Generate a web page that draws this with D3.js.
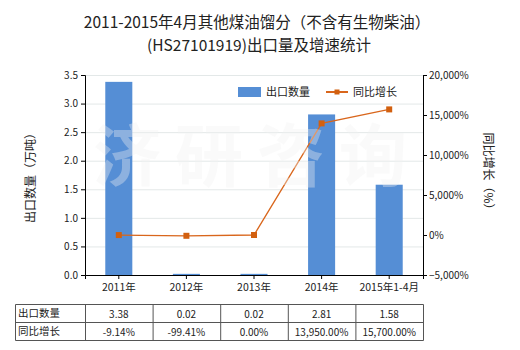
<!DOCTYPE html>
<html>
<head>
<meta charset="utf-8">
<script src="https://cdn.jsdelivr.net/npm/d3@7"></script>
<style>
  html, body { margin: 0; padding: 0; background: #fff; }
  svg { display: block; font-family: "Noto Sans CJK SC", "Noto Sans", sans-serif; }
</style>
</head>
<body>
<svg id="chart" width="520" height="350"></svg>
<script>
// Export volume (10k tonnes) and year-on-year growth (%)
const categories = ["2011年", "2012年", "2013年", "2014年", "2015年1-4月"];
const exportVolume = [3.38, 0.02, 0.02, 2.81, 1.58];
const growthRate = [-9.14, -99.41, 0.00, 13950.00, 15700.00];
const volumeLabels = ["3.38", "0.02", "0.02", "2.81", "1.58"];
const growthLabels = ["-9.14%", "-99.41%", "0.00%", "13,950.00%", "15,700.00%"];
const leftTicks = [0, 0.5, 1.0, 1.5, 2.0, 2.5, 3.0, 3.5];
const rightTicks = [-5000, 0, 5000, 10000, 15000, 20000];

const svg = d3.select("#chart");
const plot = { left: 85, right: 423, top: 75, bottom: 275 };

const x = d3.scaleBand().domain(categories).range([plot.left, plot.right]);
const yL = d3.scaleLinear().domain([0, 3.5]).range([plot.bottom, plot.top]);
const yR = d3.scaleLinear().domain([-5000, 20000]).range([plot.bottom, plot.top]);

// Title, two lines
const titleStyle = t => t.attr("text-anchor", "middle").attr("fill", "#222").style("font-size", "15.5px");
svg.append("text").attr("x", 257).attr("y", 28).call(titleStyle)
  .text("2011-2015年4月其他煤油馏分（不含有生物柴油）");
svg.append("text").attr("x", 259).attr("y", 50.5).call(titleStyle)
  .text("(HS27101919)出口量及增速统计");

// Horizontal grid
svg.append("g").selectAll("line").data(leftTicks.slice(1)).join("line")
  .attr("x1", plot.left).attr("x2", plot.right)
  .attr("y1", d => yL(d) + 0.5).attr("y2", d => yL(d) + 0.5)
  .attr("stroke", "#e3e8e8").attr("stroke-width", 1);

// Bars
const barW = x.bandwidth() * 0.4;
svg.append("g").selectAll("rect").data(exportVolume).join("rect")
  .attr("x", (d, i) => x(categories[i]) + (x.bandwidth() - barW) / 2)
  .attr("width", barW)
  .attr("y", d => yL(d))
  .attr("height", d => plot.bottom - yL(d))
  .attr("fill", "#558ed5");

// Growth line
const cx = i => x(categories[i]) + x.bandwidth() / 2;
svg.append("path")
  .datum(growthRate)
  .attr("d", d3.line().x((d, i) => cx(i)).y(d => yR(d)))
  .attr("fill", "none").attr("stroke", "#d9661c").attr("stroke-width", 1.3);
svg.append("g").selectAll("rect").data(growthRate).join("rect")
  .attr("x", (d, i) => cx(i) - 3).attr("y", d => yR(d) - 3)
  .attr("width", 6).attr("height", 6).attr("fill", "#d2600f");

// Axes
const axisStyle = g => {
  g.selectAll("path.domain").attr("stroke", "#000");
  g.selectAll(".tick line").attr("stroke", "#000");
  g.selectAll("text").attr("fill", "#222").style("font-size", "10px")
    .style("font-family", "\"Noto Sans CJK SC\", sans-serif");
};
svg.append("g").attr("transform", `translate(${plot.left},0)`)
  .call(d3.axisLeft(yL).tickValues(leftTicks).tickFormat(d3.format(".1f")).tickSizeOuter(0).tickSize(4).tickPadding(3))
  .call(axisStyle);
svg.append("g").attr("transform", `translate(${plot.right},0)`)
  .call(d3.axisRight(yR).tickValues(rightTicks).tickFormat(d => d3.format(",")(d) + "%").tickSizeOuter(0).tickSize(4).tickPadding(2))
  .call(axisStyle);
svg.append("g").attr("transform", `translate(0,${plot.bottom})`)
  .call(d3.axisBottom(x).tickSizeOuter(0).tickSize(4).tickPadding(5))
  .call(axisStyle)
  .call(g => g.selectAll("text").style("font-size", "10.5px"));

// Axis titles
svg.append("text").attr("transform", "translate(35,175) rotate(-90)")
  .attr("text-anchor", "middle").attr("fill", "#222").style("font-size", "12px")
  .text("出口数量（万吨）");
svg.append("text").attr("transform", "translate(484,174) rotate(90)")
  .attr("text-anchor", "middle").attr("fill", "#222").style("font-size", "12px")
  .text("同比增长（%）");

// Faint watermark inside the plot area
svg.append("text").attr("x", 93).attr("y", 181)
  .attr("fill", "#f0f0f0").attr("fill-opacity", 0.36)
  .style("font-size", "68px").style("font-weight", "bold").attr("letter-spacing", "14px")
  .text("济研咨询");

// Legend
const lg = svg.append("g");
lg.append("rect").attr("x", 238).attr("y", 87).attr("width", 23).attr("height", 10).attr("fill", "#558ed5");
lg.append("text").attr("x", 266).attr("y", 96).attr("fill", "#222").style("font-size", "11px").text("出口数量");
lg.append("line").attr("x1", 326).attr("x2", 348).attr("y1", 92).attr("y2", 92)
  .attr("stroke", "#d9661c").attr("stroke-width", 2);
lg.append("rect").attr("x", 334.5).attr("y", 89.5).attr("width", 5).attr("height", 5).attr("fill", "#d2600f");
lg.append("text").attr("x", 353).attr("y", 96).attr("fill", "#222").style("font-size", "11px").text("同比增长");

// Data table
const rowY = [304.5, 322.5, 340.5];
const table = svg.append("g");
const colX = [15.5, plot.left + 0.5].concat(categories.map(c => x(c) + x.bandwidth() + 0.5));
table.selectAll("line.h").data(rowY).join("line")
  .attr("x1", colX[0]).attr("x2", colX[colX.length - 1])
  .attr("y1", d => d).attr("y2", d => d).attr("stroke", "#555");
table.selectAll("line.v").data(colX).join("line")
  .attr("x1", d => d).attr("x2", d => d)
  .attr("y1", rowY[0]).attr("y2", rowY[2]).attr("stroke", "#555");
const rows = [["出口数量", volumeLabels], ["同比增长", growthLabels]];
rows.forEach(([name, vals], r) => {
  const yText = rowY[r] + 13;
  table.append("text").attr("x", 18).attr("y", yText - 1).attr("fill", "#222")
    .style("font-size", "10.5px").text(name);
  table.selectAll(null).data(vals).join("text")
    .attr("x", (d, i) => cx(i)).attr("y", yText)
    .attr("text-anchor", "middle").attr("fill", "#222").style("font-size", "10px")
    .text(d => d);
});
</script>
</body>
</html>
